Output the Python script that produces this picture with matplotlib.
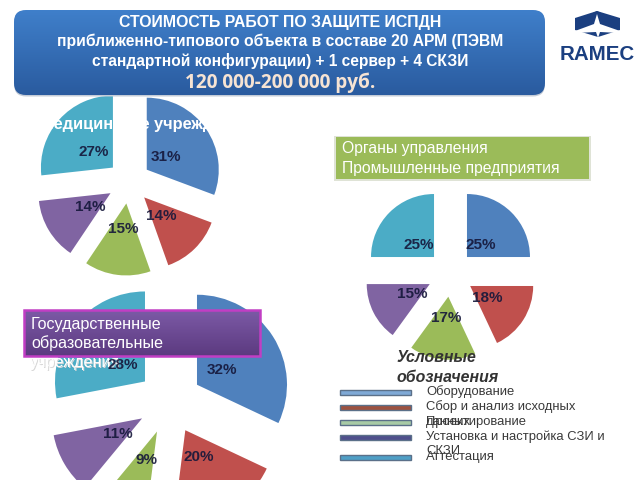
import matplotlib
matplotlib.use("Agg")
import matplotlib.pyplot as plt
import numpy as np
from matplotlib.patches import FancyBboxPatch, Rectangle, Polygon

plt.rcParams['font.family'] = ['Liberation Sans', 'DejaVu Sans']

COLORS = ['#4f81bd', '#c0504d', '#9bbb59', '#8064a2', '#4bacc6']

med_values = [31, 14, 15, 14, 27]
gov_values = [25, 18, 17, 15, 25]
edu_values = [32, 20, 9, 11, 28]

legend_labels = ['Оборудование', 'Сбор и анализ исходных\nданных', 'Проектирование',
                 'Установка и настройка СЗИ и\nСКЗИ', 'Аттестация']
legend_colors = ['#7fa9d6', '#9c5140', '#a8cba6', '#4f4f8c', '#4f9fc6']

title_lines = ['СТОИМОСТЬ РАБОТ ПО ЗАЩИТЕ ИСПДН',
               'приближенно-типового объекта в составе 20 АРМ (ПЭВМ',
               'стандартной конфигурации) + 1 сервер + 4 СКЗИ']
price = '120 000-200 000 руб.'

W, H = 640, 480
fig = plt.figure(figsize=(6.4, 4.8), dpi=100)
ax = fig.add_axes([0, 0, 1, 1])


def Y(y):
    return H - y


def P(points):
    return [(x, Y(y)) for x, y in points]


def draw_pie(values, cx, cy, r, d, label_pos):
    ax.pie(values, colors=COLORS, startangle=90, counterclock=False,
           center=(cx, Y(cy)), radius=r, explode=[d] * len(values), frame=False,
           wedgeprops=dict(linewidth=0, zorder=2))
    for v, (x, y) in zip(values, label_pos):
        ax.text(x, Y(y), f'{v}%', ha='center', va='center', fontsize=11, fontweight='bold',
                color='#15173a', alpha=0.9, zorder=6)


draw_pie(med_values, 129, 182, 72, 21.6,
         [(166, 157), (161, 216), (123, 229), (90, 207), (94, 152)])
draw_pie(gov_values, 450.5, 273.5, 63, 23.3,
         [(481, 245), (487, 298), (446, 318), (412, 294), (419, 245)])
draw_pie(edu_values, 169.8, 402, 90, 32.2,
         [(222, 370), (199, 457), (146, 460), (118, 434), (123, 365)])


def gradient_box(x0, y0, x1, y1, top, bottom, rounding, edge=None, lw=0, z=8):
    t = np.array(matplotlib.colors.to_rgb(top))
    b = np.array(matplotlib.colors.to_rgb(bottom))
    s = np.linspace(0, 1, 64)[:, None, None]
    img = t[None, None, :] * (1 - s) + b[None, None, :] * s
    if rounding > 0:
        box = FancyBboxPatch((x0 + rounding, Y(y1) + rounding), x1 - x0 - 2 * rounding,
                             y1 - y0 - 2 * rounding,
                             boxstyle=f'round,pad={rounding},rounding_size={rounding}',
                             fc='none', ec='none', zorder=z)
    else:
        box = Rectangle((x0, Y(y1)), x1 - x0, y1 - y0, fc='none', ec=edge or 'none', lw=lw, zorder=z + 0.5)
    ax.add_patch(box)
    im = ax.imshow(img, extent=(x0, x1, Y(y1), Y(y0)), aspect='auto', zorder=z, interpolation='bilinear')
    if rounding > 0:
        im.set_clip_path(box)


# header
ax.add_patch(FancyBboxPatch((26, Y(96.5) + 12), 507, 62,
                            boxstyle='round,pad=12,rounding_size=12', fc='#c4ccd8', ec='none', zorder=7))
gradient_box(14, 10, 545, 95, '#3f7fca', '#2a5b9f', 12)
ty = [22, 41.5, 61]
sizes = [11.4, 11.25, 11.2]
for line, y, fs in zip(title_lines, ty, sizes):
    ax.text(280, Y(y), line, ha='center', va='center', fontsize=fs,
            fontweight='bold', color='white', zorder=9)
ax.text(280.5, Y(82.5), price, ha='center', va='center', fontsize=13.7, fontweight='bold',
        family=['Open Sans', 'DejaVu Sans'], color='#f6e3d3', zorder=9)

# logo
navy = '#1b3f80'
ax.add_patch(Polygon(P([(597, 11), (620, 18), (620, 30), (598, 37), (575, 30), (575, 18)]),
                     closed=True, fc=navy, ec='none', zorder=5))
ax.add_patch(Polygon(P([(597, 14), (600, 24), (620, 31), (620, 33), (600, 32), (598, 38), (596, 32), (575, 33),
                        (575, 31), (594, 24)]),
                     closed=True, fc='white', ec='none', zorder=6))
ax.add_patch(Polygon(P([(597, 11), (593, 13), (601, 13)]), closed=True, fc=navy, ec='none', zorder=6.5))
ax.text(597, Y(54), 'RAMEC', ha='center', va='center', fontsize=14.8, fontweight='bold', color=navy, zorder=6)

# medical heading
ax.text(39.5, Y(124), 'Медицинские учреждения', ha='left', va='center', fontsize=11.8,
        fontweight='bold', color='white', zorder=6)

# green box
ax.add_patch(Rectangle((334, Y(181)), 257, 45, fc='#dfe3d6', ec='none', zorder=7))
ax.add_patch(Rectangle((336, Y(179)), 253, 42, fc='#9bbb59', ec='none', zorder=8))
ax.text(341.5, Y(149), 'Органы управления', ha='left', va='center', fontsize=11.3, color='white', zorder=9)
ax.text(341.5, Y(168.5), 'Промышленные предприятия', ha='left', va='center', fontsize=11.3, color='white', zorder=9)

# purple box
ax.text(31, Y(363.5), 'учреждения', ha='left', va='center', fontsize=11.6, color='#d8d8d8', zorder=5)
ax.text(30, Y(363), 'учреждения', ha='left', va='center', fontsize=11.6, color='white', zorder=5.5)
gradient_box(24, 310, 260, 356, '#7c5aa6', '#5c3a80', 0, edge='#c13ec4', lw=1.8)
ax.text(31, Y(324), 'Государственные', ha='left', va='center', fontsize=11.6, color='white', zorder=9)
ax.text(31, Y(343.5), 'образовательные', ha='left', va='center', fontsize=11.6, color='white', zorder=9)

# legend
ax.text(397, Y(358), 'Условные', ha='left', va='center', fontsize=11.4, fontweight='bold', style='italic',
        color='#333333', zorder=9)
ax.text(397, Y(378), 'обозначения', ha='left', va='center', fontsize=11.4, fontweight='bold', style='italic',
        color='#333333', zorder=9)
bar_y = [392.5, 407.5, 422.5, 437.5, 457.5]
text_y = [[392], [407, 422], [422], [437, 450.5], [457]]
for label, col, by, tys in zip(legend_labels, legend_colors, bar_y, text_y):
    ax.add_patch(Rectangle((339.5, Y(by + 2.5)), 71, 5, fc=col, ec='#5b7089', lw=1, zorder=4))
    for part, y in zip(label.split('\n'), tys):
        ax.text(426, Y(y), part, ha='left', va='center', fontsize=9.4, color='#3a3a3a', zorder=4)

ax.set_xlim(0, W)
ax.set_ylim(0, H)
ax.set_aspect('auto')
ax.axis('off')
fig.savefig('out.png', dpi=100)
